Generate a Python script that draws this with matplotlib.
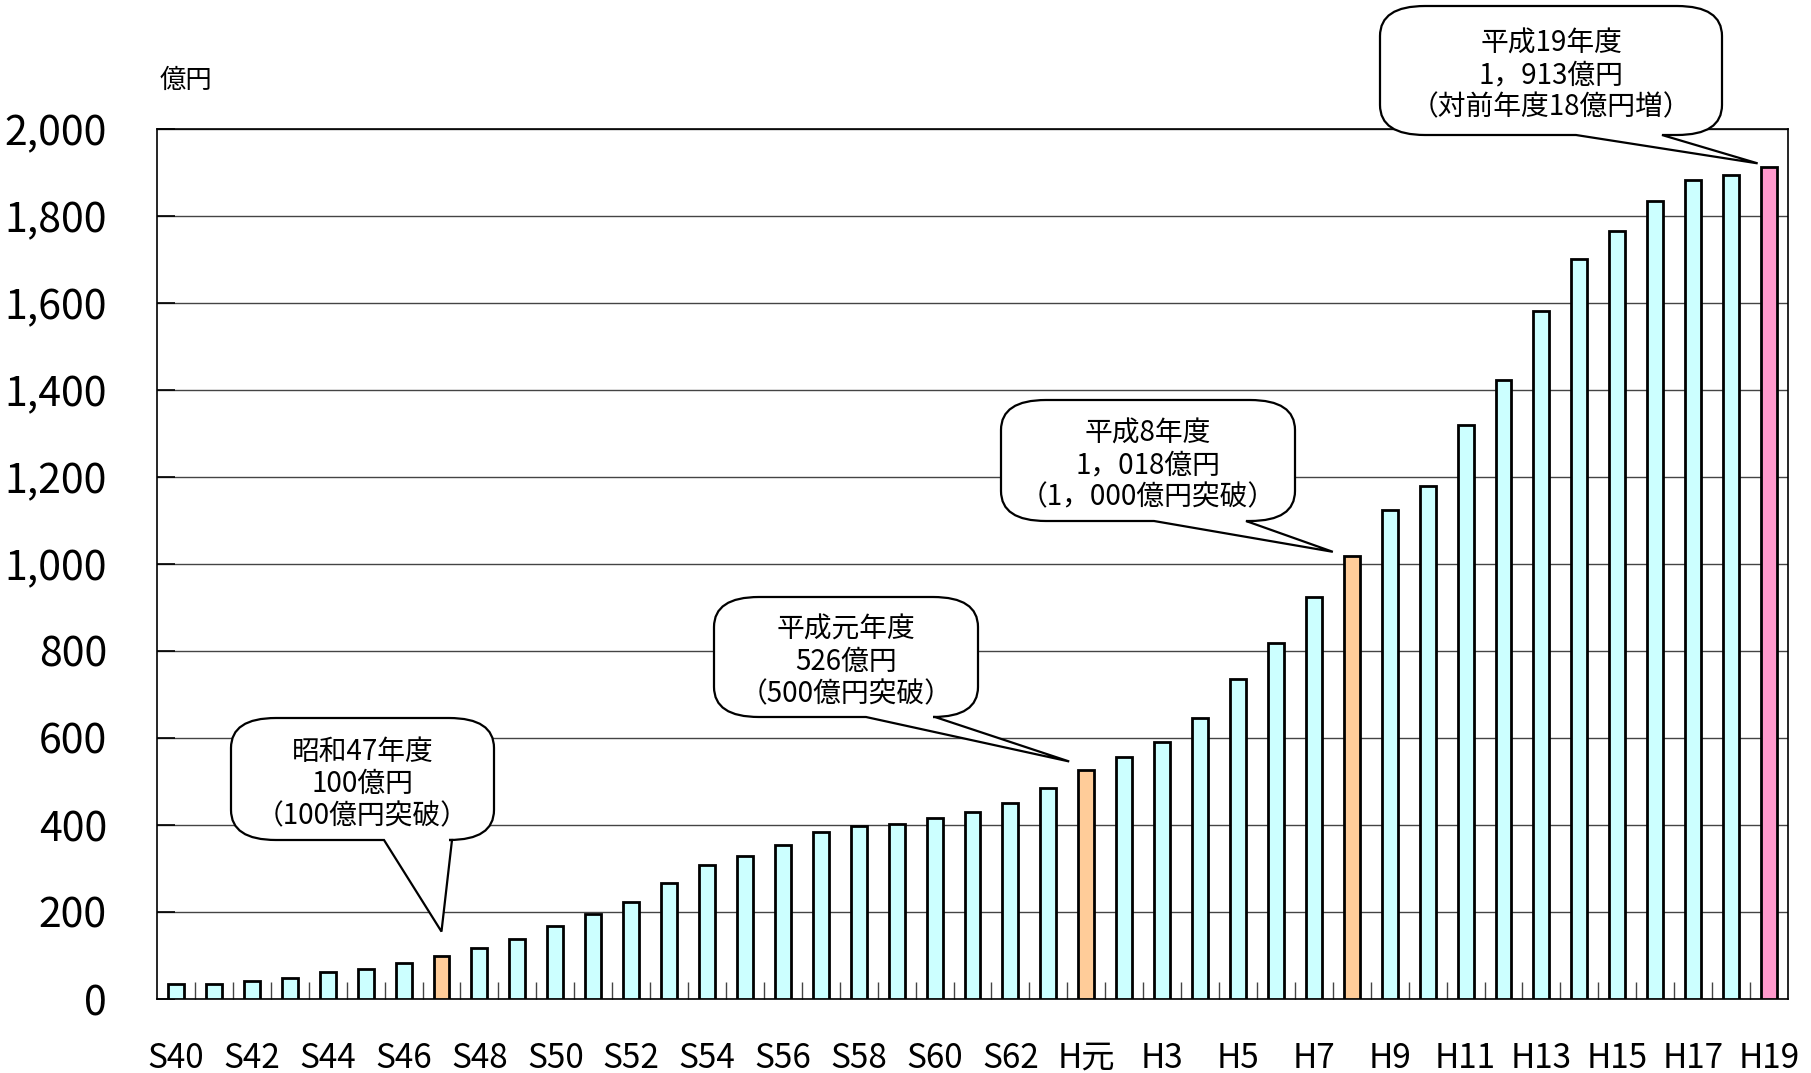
import matplotlib
matplotlib.use("Agg")
import matplotlib.pyplot as plt
from matplotlib.path import Path
from matplotlib.patches import PathPatch

# fiscal years S40 (1965) .. H19 (2007), 億円
years = (["S%d" % n for n in range(40, 64)] + ["H元"] +
         ["H%d" % n for n in range(2, 20)])
amounts = [35, 35, 42, 49, 62, 70, 83, 100, 118, 139, 167, 195,
           223, 266, 307, 328, 355, 383, 397, 403, 417, 430, 451, 486,
           526, 556, 590, 646, 736, 819, 924, 1018, 1123, 1179, 1319, 1423,
           1582, 1701, 1765, 1834, 1882, 1895, 1913]
highlight = {"S47": "#FFCC99", "H元": "#FFCC99", "H8": "#FFCC99", "H19": "#FF99CC"}
base_color = "#CCFFFF"
y_ticks = list(range(0, 2001, 200))

notes = [
    ("S47", "昭和47年度\n100億円\n（100億円突破）"),
    ("H元", "平成元年度\n526億円\n（500億円突破）"),
    ("H8", "平成8年度\n1，018億円\n（1，000億円突破）"),
    ("H19", "平成19年度\n1，913億円\n（対前年度18億円増）"),
]

W, H = 1811, 1073
num_font = ["Noto Sans CJK JP", "DejaVu Sans"]
jp_font = ["Noto Sans CJK JP", "DejaVu Sans"]

fig = plt.figure(figsize=(W / 100, H / 100), dpi=100)
ax = fig.add_axes([157 / W, 1 - 999 / H, (1788 - 157) / W, (999 - 129) / H])

x = list(range(len(years)))
colors = [highlight.get(y, base_color) for y in years]
ax.bar(x, amounts, width=0.42, color=colors, edgecolor="black", linewidth=2.0, zorder=3)

ax.set_xlim(-0.5, len(years) - 0.5)
ax.set_ylim(0, 2000)
ax.set_yticks(y_ticks)
ax.set_yticklabels(["{:,}".format(v) for v in y_ticks], family=num_font, fontsize=29.5)
ax.set_xticks(x[::2])
ax.set_xticklabels(years[::2], family=num_font, fontsize=24)
ax.set_xticks([i + 0.5 for i in x[:-1]], minor=True)
ax.tick_params(axis="x", which="major", length=0, pad=30)
ax.tick_params(axis="x", which="minor", direction="in", length=12, width=1, color="#444444")
ax.tick_params(axis="y", direction="in", length=13, width=1.2, pad=36)
ax.grid(axis="y", color="#444444", linewidth=1.0, zorder=0)
ax.set_axisbelow(True)
for s in ax.spines.values():
    s.set_linewidth(1.2)
    s.set_color("black")

fig.text(160 / W, 1 - 80 / H, "億円", family=jp_font, fontsize=19, va="center", ha="left")

# callout boxes in pixel coords (top-down): box (x0, y0, x1, y1), tail base x1,x2, tip offset
boxes = {
    "S47": ((231, 718, 494, 840), (384, 452), (0.0, 55)),
    "H元": ((714, 597, 978, 717), (866, 935), (-0.45, 20)),
    "H8": ((1001, 400, 1295, 521), (1154, 1246), (-0.5, 10)),
    "H19": ((1380, 6, 1722, 135), (1576, 1662), (-0.3, 8)),
}


def fig_xy(px, py):
    return px / W, 1 - py / H


fig.canvas.draw()
for key, txt in notes:
    (x0, y0, x1, y1), (b1, b2), (dx, dy) = boxes[key]
    i = years.index(key)
    tx, ty = ax.transData.transform((i + dx, amounts[i] + dy))
    tip = (tx, H - ty)
    rx, ry = 45, 30
    pts = [(b1, y1), tip, (b2, y1), (x1 - rx, y1), (x1, y1), (x1, y1 - ry),
           (x1, y0 + ry), (x1, y0), (x1 - rx, y0), (x0 + rx, y0), (x0, y0), (x0, y0 + ry),
           (x0, y1 - ry), (x0, y1), (x0 + rx, y1), (b1, y1)]
    codes = [Path.MOVETO, Path.LINETO, Path.LINETO, Path.LINETO, Path.CURVE3, Path.CURVE3,
             Path.LINETO, Path.CURVE3, Path.CURVE3, Path.LINETO, Path.CURVE3, Path.CURVE3,
             Path.LINETO, Path.CURVE3, Path.CURVE3, Path.CLOSEPOLY]
    path = Path([fig_xy(*p) for p in pts], codes)
    fig.add_artist(PathPatch(path, facecolor="white", edgecolor="black", linewidth=1.6,
                             transform=fig.transFigure, zorder=10))
    cx, cy = fig_xy((x0 + x1) / 2, (y0 + y1) / 2 + 5)
    fig.text(cx, cy, txt, family=jp_font, fontsize=20, ha="center", va="center",
             multialignment="center", linespacing=1.1, zorder=11)

fig.savefig("out.png", dpi=100)
